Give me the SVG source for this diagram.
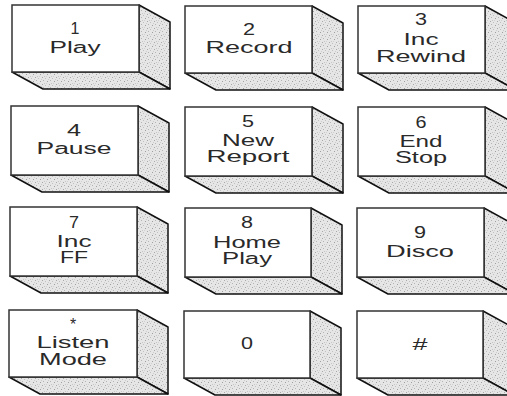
<svg xmlns="http://www.w3.org/2000/svg" width="507" height="396" viewBox="0 0 507 396">
<defs>
<pattern id="stip" width="7" height="7" patternUnits="userSpaceOnUse">
<rect width="7" height="7" fill="#e6e6e6"/>
<rect x="0" y="0" width="1" height="1" fill="#a8a8a8"/>
<rect x="3" y="1" width="1" height="1" fill="#c0c0c0"/>
<rect x="1" y="3" width="1" height="1" fill="#b4b4b4"/>
<rect x="5" y="4" width="1" height="1" fill="#9f9f9f"/>
<rect x="6" y="2" width="1" height="1" fill="#cccccc"/>
<rect x="2" y="6" width="1" height="1" fill="#c6c6c6"/>
<rect x="4" y="6" width="1" height="1" fill="#d0d0d0"/>
</pattern>
<style>
.front{fill:#fff;stroke:#333;stroke-width:1.5}
.face{fill:url(#stip);stroke:#111;stroke-width:1.5;stroke-linejoin:round}
.t{font-family:"Liberation Sans",Arial,sans-serif;font-size:16px;fill:#2a2a2a;text-anchor:middle}
</style>
</defs>
<rect width="507" height="396" fill="#fff"/>

<g id="key1">
<polygon class="face" points="139,5 170,22 170,89 139,72"/>
<polygon class="face" points="12,72 139,72 170,89 43,89"/>
<rect class="front" x="12" y="5" width="127" height="67"/>
<text class="t" x="75" y="34">1</text>
<text class="t" x="75" y="53" textLength="51" lengthAdjust="spacingAndGlyphs">Play</text>
</g>
<g id="key2">
<polygon class="face" points="312,6 343,23 343,90 312,73"/>
<polygon class="face" points="185,73 312,73 343,90 216,90"/>
<rect class="front" x="185" y="6" width="127" height="67"/>
<text class="t" x="249" y="35" textLength="12" lengthAdjust="spacingAndGlyphs">2</text>
<text class="t" x="249" y="53" textLength="87" lengthAdjust="spacingAndGlyphs">Record</text>
</g>
<g id="key3">
<polygon class="face" points="485,6 516,23 516,90 485,73"/>
<polygon class="face" points="358,73 485,73 516,90 389,90"/>
<rect class="front" x="358" y="6" width="127" height="67"/>
<text class="t" x="421" y="25" textLength="12" lengthAdjust="spacingAndGlyphs">3</text>
<text class="t" x="421" y="45" textLength="35" lengthAdjust="spacingAndGlyphs">Inc</text>
<text class="t" x="421" y="62" textLength="90" lengthAdjust="spacingAndGlyphs">Rewind</text>
</g>

<g id="key4">
<polygon class="face" points="138,106 169,123 169,192 138,175"/>
<polygon class="face" points="11,175 138,175 169,192 42,192"/>
<rect class="front" x="11" y="106" width="127" height="69"/>
<text class="t" x="74" y="136" textLength="14" lengthAdjust="spacingAndGlyphs">4</text>
<text class="t" x="74" y="154" textLength="75" lengthAdjust="spacingAndGlyphs">Pause</text>
</g>
<g id="key5">
<polygon class="face" points="312,107 343,124 343,193 312,176"/>
<polygon class="face" points="185,176 312,176 343,193 216,193"/>
<rect class="front" x="185" y="107" width="127" height="69"/>
<text class="t" x="248" y="127" textLength="12" lengthAdjust="spacingAndGlyphs">5</text>
<text class="t" x="248" y="146" textLength="52" lengthAdjust="spacingAndGlyphs">New</text>
<text class="t" x="248" y="162" textLength="83" lengthAdjust="spacingAndGlyphs">Report</text>
</g>
<g id="key6">
<polygon class="face" points="485,107 516,124 516,193 485,176"/>
<polygon class="face" points="358,176 485,176 516,193 389,193"/>
<rect class="front" x="358" y="107" width="127" height="69"/>
<text class="t" x="421" y="128" textLength="11" lengthAdjust="spacingAndGlyphs">6</text>
<text class="t" x="421" y="147" textLength="43" lengthAdjust="spacingAndGlyphs">End</text>
<text class="t" x="421" y="163" textLength="52" lengthAdjust="spacingAndGlyphs">Stop</text>
</g>

<g id="key7">
<polygon class="face" points="137,207 168,224 168,293 137,276"/>
<polygon class="face" points="10,276 137,276 168,293 41,293"/>
<rect class="front" x="10" y="207" width="127" height="69"/>
<text class="t" x="74" y="228" textLength="10" lengthAdjust="spacingAndGlyphs">7</text>
<text class="t" x="74" y="247" textLength="35" lengthAdjust="spacingAndGlyphs">Inc</text>
<text class="t" x="74" y="263" textLength="28" lengthAdjust="spacingAndGlyphs">FF</text>
</g>
<g id="key8">
<polygon class="face" points="311,208 342,225 342,294 311,277"/>
<polygon class="face" points="185,277 311,277 342,294 216,294"/>
<rect class="front" x="185" y="208" width="126" height="69"/>
<text class="t" x="247" y="228" textLength="12" lengthAdjust="spacingAndGlyphs">8</text>
<text class="t" x="247" y="248" textLength="68" lengthAdjust="spacingAndGlyphs">Home</text>
<text class="t" x="247" y="264" textLength="50" lengthAdjust="spacingAndGlyphs">Play</text>
</g>
<g id="key9">
<polygon class="face" points="484,208 515,225 515,294 484,277"/>
<polygon class="face" points="357,277 484,277 515,294 388,294"/>
<rect class="front" x="357" y="208" width="127" height="69"/>
<text class="t" x="420" y="238" textLength="12" lengthAdjust="spacingAndGlyphs">9</text>
<text class="t" x="420" y="257" textLength="68" lengthAdjust="spacingAndGlyphs">Disco</text>
</g>

<g id="keyStar">
<polygon class="face" points="137,310 168,327 168,394 137,377"/>
<polygon class="face" points="9,377 137,377 168,394 40,394"/>
<rect class="front" x="9" y="310" width="128" height="67"/>
<text class="t" x="73" y="330">*</text>
<text class="t" x="73" y="348" textLength="73" lengthAdjust="spacingAndGlyphs">Listen</text>
<text class="t" x="73" y="365" textLength="68" lengthAdjust="spacingAndGlyphs">Mode</text>
</g>
<g id="key0">
<polygon class="face" points="310,311 341,328 341,395 310,378"/>
<polygon class="face" points="184,378 310,378 341,395 215,395"/>
<rect class="front" x="184" y="311" width="126" height="67"/>
<text class="t" x="247" y="349" textLength="12" lengthAdjust="spacingAndGlyphs">0</text>
</g>
<g id="keyHash">
<polygon class="face" points="483,311 514,328 514,395 483,378"/>
<polygon class="face" points="357,378 483,378 514,395 388,395"/>
<rect class="front" x="357" y="311" width="126" height="67"/>
<text class="t" x="420" y="350" textLength="15" lengthAdjust="spacingAndGlyphs">#</text>
</g>
<g id="connectors"/>
</svg>
